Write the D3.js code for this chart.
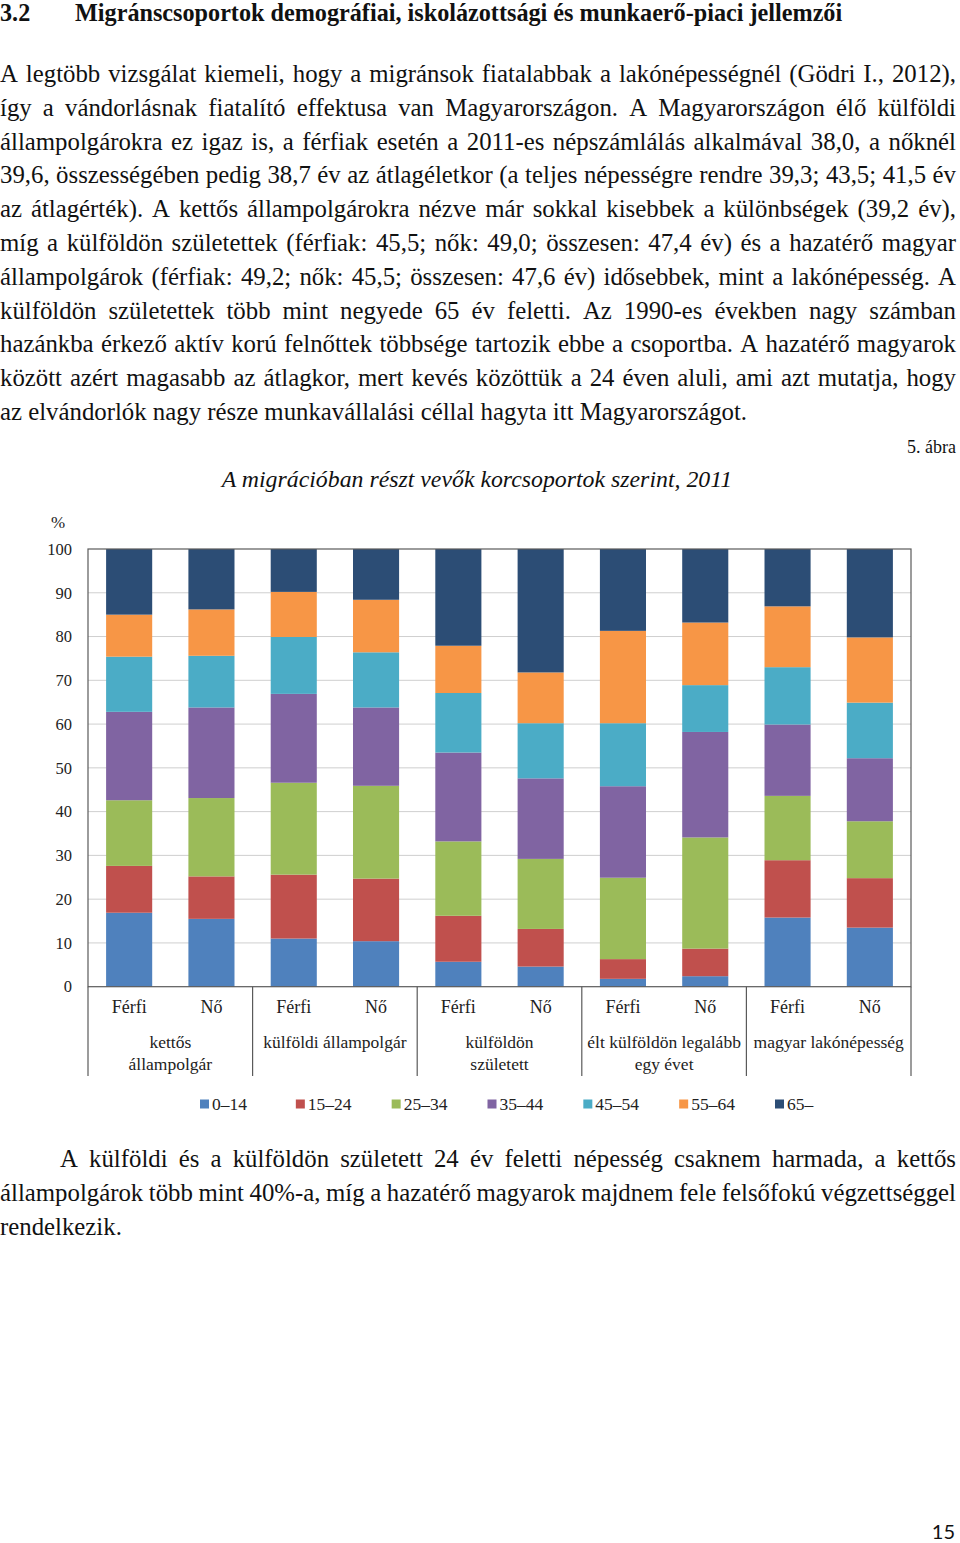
<!DOCTYPE html>
<html><head><meta charset="utf-8">
<script src="https://cdn.jsdelivr.net/npm/d3@7/dist/d3.min.js"></script>
<style>
html,body{margin:0;padding:0;background:#fff;}
svg{display:block;}
</style></head>
<body>
<svg id="page" width="960" height="1543"></svg>
<script>
// ---------- DATA ----------
const groupLabels = [["kettős","állampolgár"],["külföldi állampolgár"],["külföldön","született"],["élt külföldön legalább","egy évet"],["magyar lakónépesség"]];
const sexes = ["Férfi","Nő"];
const ageGroups = ["0–14","15–24","25–34","35–44","45–54","55–64","65–"];
const s0_14  = [16.9,15.5,11.0,10.4, 5.7, 4.6, 1.8, 2.4,15.8,13.5];
const s15_24 = [10.7, 9.7,14.6,14.3,10.5, 8.6, 4.5, 6.3,13.1,11.3];
const s25_34 = [15.0,17.9,21.0,21.2,17.0,16.0,18.6,25.4,14.7,13.0];
const s35_44 = [20.2,20.7,20.3,17.9,20.3,18.4,20.9,24.1,16.3,14.4];
const s45_54 = [12.6,11.8,13.0,12.6,13.6,12.6,14.4,10.7,13.1,12.7];
const s55_64 = [ 9.6,10.6,10.3,12.0,10.8,11.6,21.1,14.3,13.9,14.9];
const s65    = [15.0,13.8, 9.8,11.6,22.1,28.2,18.7,16.8,13.1,20.2];
const yTicks = [0,10,20,30,40,50,60,70,80,90,100];
const colors = ["#4F81BD","#C0504D","#9BBB59","#8064A2","#4BACC6","#F79646","#2C4D75"];

const para1 = [
"A legtöbb vizsgálat kiemeli, hogy a migránsok fiatalabbak a lakónépességnél (Gödri I., 2012),",
"így a vándorlásnak fiatalító effektusa van Magyarországon. A Magyarországon élő külföldi",
"állampolgárokra ez igaz is, a férfiak esetén a 2011-es népszámlálás alkalmával 38,0, a nőknél",
"39,6, összességében pedig 38,7 év az átlagéletkor (a teljes népességre rendre 39,3; 43,5; 41,5 év",
"az átlagérték). A kettős állampolgárokra nézve már sokkal kisebbek a különbségek (39,2 év),",
"míg a külföldön születettek (férfiak: 45,5; nők: 49,0; összesen: 47,4 év) és a hazatérő magyar",
"állampolgárok (férfiak: 49,2; nők: 45,5; összesen: 47,6 év) idősebbek, mint a lakónépesség. A",
"külföldön születettek több mint negyede 65 év feletti. Az 1990-es években nagy számban",
"hazánkba érkező aktív korú felnőttek többsége tartozik ebbe a csoportba. A hazatérő magyarok",
"között azért magasabb az átlagkor, mert kevés közöttük a 24 éven aluli, ami azt mutatja, hogy",
"az elvándorlók nagy része munkavállalási céllal hagyta itt Magyarországot."
];
const para2 = [
"A külföldi és a külföldön született 24 év feletti népesség csaknem harmada, a kettős",
"állampolgárok több mint 40%-a, míg a hazatérő magyarok majdnem fele felsőfokú végzettséggel",
"rendelkezik."
];

// ---------- PAGE ----------
const svg = d3.select("#page");
const serif = "'Liberation Serif','Times New Roman',serif";
const bodySize = 24.8;

function textLine(str, x0, x1, yy, size, justify) {
  const t = svg.append("text").attr("y", yy)
    .attr("font-family", serif).attr("font-size", size).attr("fill", "#111");
  if (!justify) { t.attr("x", x0).text(str); return; }
  const words = str.split(" ");
  const spans = words.map(w => t.append("tspan").text(w));
  let widths = spans.map(s => s.node().getComputedTextLength());
  let total = d3.sum(widths);
  const minGap = size * 0.2;
  if (total + minGap * (words.length - 1) > x1 - x0) {
    const k = (x1 - x0 - minGap * (words.length - 1)) / total;
    t.attr("font-size", size * k);
    widths = spans.map(s => s.node().getComputedTextLength());
    total = d3.sum(widths);
  }
  const gap = (x1 - x0 - total) / (words.length - 1);
  let xx = x0;
  spans.forEach((s, i) => { s.attr("x", xx); xx += widths[i] + gap; });
}

// heading
svg.append("text").attr("x", 0).attr("y", 21).attr("font-family", serif)
  .attr("font-size", 24.2).attr("font-weight", "bold").attr("fill", "#111").text("3.2");
svg.append("text").attr("x", 75).attr("y", 21).attr("font-family", serif)
  .attr("font-size", 24.2).attr("font-weight", "bold").attr("fill", "#111")
  .text("Migránscsoportok demográfiai, iskolázottsági és munkaerő-piaci jellemzői");

para1.forEach((l, i) => textLine(l, 0, 956, 82 + i * 33.8, bodySize, i < para1.length - 1));
para2.forEach((l, i) => textLine(l, i === 0 ? 60 : 0, 956, 1167 + i * 33.8, bodySize, i < para2.length - 1));

svg.append("text").attr("x", 956).attr("y", 453).attr("text-anchor", "end")
  .attr("font-family", serif).attr("font-size", 18).attr("fill", "#111").text("5. ábra");
svg.append("text").attr("x", 477).attr("y", 487).attr("text-anchor", "middle")
  .attr("font-family", serif).attr("font-size", 23.8).attr("font-style", "italic").attr("fill", "#111")
  .text("A migrációban részt vevők korcsoportok szerint, 2011");

svg.append("text").attr("x", 955).attr("y", 1539).attr("text-anchor", "end")
  .attr("font-family", "Lato, 'Open Sans', sans-serif").attr("font-size", 20).attr("fill", "#111").text("15");

// ---------- CHART ----------
const pL = 88, pR = 911, pT = 549, pB = 986.7;
const barIds = d3.range(10);
const x = d3.scaleBand().domain(barIds).range([pL, pR]).paddingInner(0.44).paddingOuter(0.22);
const y = d3.scaleLinear().domain([0, 100]).range([pB, pT]);

const table = barIds.map(i => {
  const o = { id: i };
  [s0_14, s15_24, s25_34, s35_44, s45_54, s55_64, s65].forEach((s, k) => o[ageGroups[k]] = s[i]);
  return o;
});
const stacked = d3.stack().keys(ageGroups)(table);

const chart = svg.append("g");
chart.append("g").selectAll("line").data(yTicks.filter(t => t > 0 && t < 100)).join("line")
  .attr("x1", pL).attr("x2", pR).attr("y1", d => y(d)).attr("y2", d => y(d))
  .attr("stroke", "#cfcfcf").attr("stroke-width", 1);

chart.append("g").selectAll("g").data(stacked).join("g")
  .attr("fill", (d, i) => colors[i])
  .selectAll("rect").data(d => d).join("rect")
  .attr("x", d => x(d.data.id)).attr("width", x.bandwidth())
  .attr("y", d => y(d[1])).attr("height", d => y(d[0]) - y(d[1]));

chart.append("rect").attr("x", pL).attr("y", pT).attr("width", pR - pL).attr("height", pB - pT)
  .attr("fill", "none").attr("stroke", "#5a5a5a").attr("stroke-width", 1.2);

const yAxis = d3.axisLeft(y).tickValues(yTicks).tickSize(0).tickPadding(16);
const ya = chart.append("g").attr("transform", `translate(${pL},0)`).call(yAxis);
ya.select(".domain").remove();
ya.selectAll("text").attr("font-family", serif).attr("font-size", 16.5).attr("fill", "#222");
svg.append("text").attr("x", 58).attr("y", 528).attr("text-anchor", "middle")
  .attr("font-family", serif).attr("font-size", 17).attr("fill", "#222").text("%");

const groupScale = d3.scaleBand().domain(d3.range(groupLabels.length)).range([pL, pR]);
const seps = d3.range(groupLabels.length + 1).map(i => i < groupLabels.length ? groupScale(i) : pR);
chart.append("g").selectAll("line").data(seps).join("line")
  .attr("x1", d => d).attr("x2", d => d).attr("y1", pB).attr("y2", 1076)
  .attr("stroke", "#5a5a5a").attr("stroke-width", 1.2);

const xAxis = d3.axisBottom(x).tickSize(0).tickPadding(14).tickFormat(i => sexes[i % 2]);
const xa = chart.append("g").attr("transform", `translate(0,${pB})`).call(xAxis);
xa.select(".domain").remove();
xa.selectAll("text").attr("font-family", serif).attr("font-size", 18).attr("fill", "#222");

const gl = chart.append("g").selectAll("text").data(groupLabels).join("text")
  .attr("text-anchor", "middle").attr("font-family", serif).attr("font-size", 17.5).attr("fill", "#222")
  .attr("transform", (d, i) => `translate(${groupScale(i) + groupScale.bandwidth() / 2},1048)`);
gl.selectAll("tspan").data(d => d).join("tspan")
  .attr("x", 0).attr("dy", (d, i) => i === 0 ? 0 : 22).text(d => d);

const legX = d3.scalePoint().domain(ageGroups).range([200, 775]);
const leg = chart.append("g").selectAll("g").data(ageGroups).join("g")
  .attr("transform", d => `translate(${legX(d)},1104)`);
leg.append("rect").attr("x", 0).attr("y", -4.5).attr("width", 9).attr("height", 9)
  .attr("fill", (d, i) => colors[i]);
leg.append("text").attr("x", 12).attr("y", 6).attr("font-family", serif).attr("font-size", 17.5)
  .attr("fill", "#222").text(d => d);
</script>
</body></html>
